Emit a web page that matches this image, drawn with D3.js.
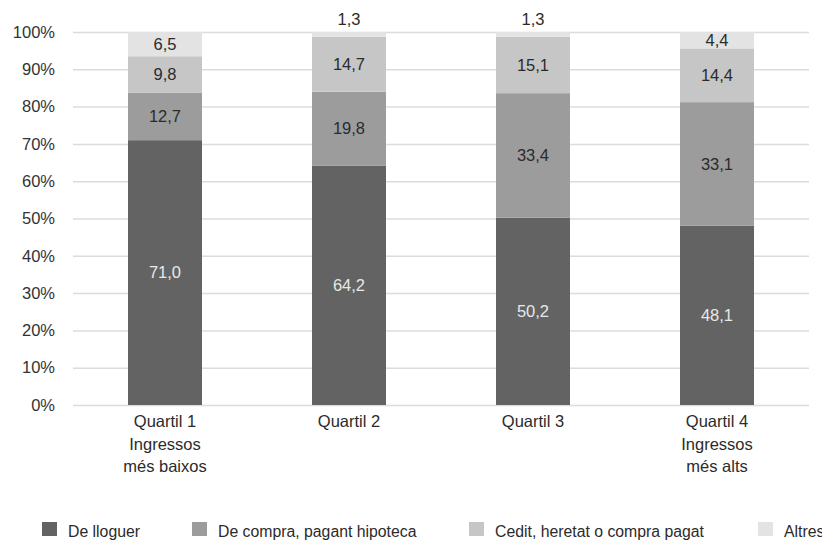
<!DOCTYPE html>
<html>
<head>
<meta charset="utf-8">
<script src="https://cdn.jsdelivr.net/npm/d3@7"></script>
<style>
  html, body { margin: 0; padding: 0; background: #fff; }
  svg { display: block; }
  text { font-family: "Liberation Sans", "Helvetica Neue", Arial, sans-serif; }
</style>
</head>
<body>
<svg id="chart" width="822" height="540"></svg>
<script>
const categories = [
  ["Quartil 1", "Ingressos", "més baixos"],
  ["Quartil 2"],
  ["Quartil 3"],
  ["Quartil 4", "Ingressos", "més alts"]
];
const seriesNames = ["De lloguer", "De compra, pagant hipoteca", "Cedit, heretat o compra pagat", "Altres"];
const lloguer   = [71.0, 64.2, 50.2, 48.1];
const hipoteca  = [12.7, 19.8, 33.4, 33.1];
const cedit     = [9.8, 14.7, 15.1, 14.4];
const altres    = [6.5, 1.3, 1.3, 4.4];
const yTicks = [0, 10, 20, 30, 40, 50, 60, 70, 80, 90, 100];

const colors = ["#636363", "#9c9c9c", "#c6c6c6", "#e3e3e3"];
const labelColors = ["#e8e8e8", "#2b2b2b", "#2b2b2b", "#2b2b2b"];

const svg = d3.select("#chart");
const M = { left: 73, right: 809, top: 32, bottom: 405 };

const x = d3.scaleBand().domain(d3.range(categories.length)).range([M.left, M.right])
  .paddingInner(0.598).paddingOuter(0.299);
const y = d3.scaleLinear().domain([0, 100]).range([M.bottom, M.top]);

// gridlines
const yAxis = d3.axisLeft(y).tickValues(yTicks).tickFormat(d => d + "%").tickSize(-(M.right - M.left)).tickPadding(18);
const gy = svg.append("g").attr("transform", `translate(${M.left},0)`).call(yAxis);
gy.select(".domain").remove();
gy.selectAll(".tick line").attr("stroke", "#dcdcdc").attr("stroke-width", 1.5);
gy.selectAll(".tick text").attr("fill", "#333").style("font-size", "16.5px").attr("x", -18);

// stacked data
const series = [lloguer, hipoteca, cedit, altres];
const rows = categories.map((c, i) => {
  let acc = 0;
  return series.map((s, k) => {
    const y0 = acc; acc += s[i];
    return { i, k, v: s[i], y0, y1: acc };
  });
});

const gBars = svg.append("g");
rows.forEach(row => {
  row.forEach(d => {
    gBars.append("rect")
      .attr("x", x(d.i))
      .attr("width", x.bandwidth())
      .attr("y", y(d.y1))
      .attr("height", y(d.y0) - y(d.y1))
      .attr("fill", colors[d.k]);
  });
});

// labels
rows.forEach(row => {
  row.forEach(d => {
    const small = d.v < 2;
    const cy = small ? y(d.y1) - 13 : y((d.y0 + d.y1) / 2);
    svg.append("text")
      .attr("x", x(d.i) + x.bandwidth() / 2)
      .attr("y", cy)
      .attr("dy", "0.35em")
      .attr("text-anchor", "middle")
      .attr("fill", small ? "#2b2b2b" : labelColors[d.k])
      .style("font-size", "16.5px")
      .text(d3.format(".1f")(d.v).replace(".", ","));
  });
});

// x category labels
categories.forEach((lines, i) => {
  const t = svg.append("text")
    .attr("x", x(i) + x.bandwidth() / 2)
    .attr("y", 427)
    .attr("text-anchor", "middle")
    .attr("fill", "#2b2b2b")
    .style("font-size", "16.5px");
  lines.forEach((l, j) => {
    t.append("tspan").attr("x", x(i) + x.bandwidth() / 2).attr("dy", j === 0 ? 0 : 22.5).text(l);
  });
});

// legend
const legendX = [42, 192, 469, 758];
const lg = svg.append("g");
seriesNames.forEach((n, k) => {
  lg.append("rect").attr("x", legendX[k]).attr("y", 522).attr("width", 15).attr("height", 14).attr("fill", colors[k]);
  lg.append("text").attr("x", legendX[k] + 26).attr("y", 537).attr("fill", "#2b2b2b")
    .style("font-size", "15.8px").text(n);
});
</script>
</body>
</html>
